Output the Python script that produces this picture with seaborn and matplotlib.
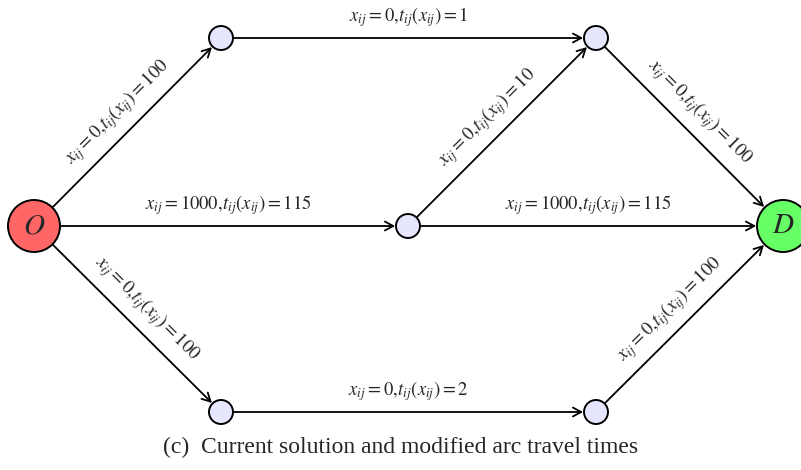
import numpy as np
import pandas as pd
import matplotlib
matplotlib.use("Agg")
import matplotlib.pyplot as plt
import seaborn as sns

# network data
node_names = ["O", "a", "b", "c", "d", "e", "D"]
node_x = [34, 221, 596, 408, 221, 596, 783]
node_y = [226, 38, 38, 226, 412, 412, 226]
node_kind = ["origin", "mid", "mid", "mid", "mid", "mid", "dest"]

edge_src = ["O", "a", "O", "c", "b", "c", "O", "d", "e"]
edge_dst = ["a", "b", "c", "b", "D", "D", "d", "e", "D"]
edge_flow = [0, 0, 1000, 0, 0, 1000, 0, 0, 0]
edge_time = [100, 1, 115, 10, 100, 115, 100, 2, 100]

caption = "(c)  Current solution and modified arc travel times"

# styles
kind_color = {"origin": "#ff6666", "mid": "#e6e6ff", "dest": "#66ff66"}
kind_radius = {"origin": 26, "mid": 12, "dest": 26}   # pixels
PX2PT = 0.72
LABEL_OFF = 21

sns.set_style("white")
plt.rcParams["font.family"] = ["Liberation Serif", "DejaVu Serif"]
plt.rcParams["mathtext.fontset"] = "stix"

nodes = pd.DataFrame({"name": node_names, "x": node_x, "y": node_y, "kind": node_kind})
nodes["r"] = nodes["kind"].map(kind_radius)
pos = {n: (x, y) for n, x, y in zip(node_names, node_x, node_y)}
rad = dict(zip(nodes["name"], nodes["r"]))

fig = plt.figure(figsize=(8.01, 4.70), dpi=100)
ax = fig.add_axes([0, 0, 1, 1])

for s, t, f, tt in zip(edge_src, edge_dst, edge_flow, edge_time):
    (x1, y1), (x2, y2) = pos[s], pos[t]
    ax.annotate("", xy=(x2, y2), xytext=(x1, y1),
                arrowprops=dict(arrowstyle="->,head_length=0.6,head_width=0.32",
                                lw=1.3, color="black",
                                shrinkA=rad[s] * PX2PT + 0.6,
                                shrinkB=rad[t] * PX2PT + 0.6),
                zorder=1)
    L = np.hypot(x2 - x1, y2 - y1)
    ux, uy = (x2 - x1) / L, (y2 - y1) / L
    # midpoint of the visible segment between node borders
    a = rad[s]
    b = L - rad[t]
    mx = x1 + ux * (a + b) / 2
    my = y1 + uy * (a + b) / 2
    ang = np.degrees(np.arctan2(y1 - y2, x2 - x1))
    th = np.radians(ang)
    px, py = -np.sin(th), -np.cos(th)
    ax.text(mx + LABEL_OFF * px, my + LABEL_OFF * py,
            r"$x_{ij}=%d,\!t_{ij}(x_{ij})=%d$" % (f, tt),
            rotation=ang, rotation_mode="anchor", ha="center", va="center",
            fontsize=13.4, zorder=3)

nodes["s"] = (2 * nodes["r"] * PX2PT) ** 2
sns.scatterplot(data=nodes, x="x", y="y", hue="kind", size="s",
                palette=kind_color, sizes=(nodes["s"].min(), nodes["s"].max()),
                edgecolor="black", linewidth=1.4, legend=False, ax=ax, zorder=2)

for n, k in zip(node_names, node_kind):
    if k != "mid":
        ax.text(*pos[n], f"${n}$", ha="center", va="center", fontsize=21, zorder=4)

ax.text(401, 447, caption, ha="center", va="center", fontsize=17)

ax.set_xlim(0, 801)
ax.set_ylim(470, 0)
ax.set_axis_off()
fig.savefig("out.png", dpi=100)
